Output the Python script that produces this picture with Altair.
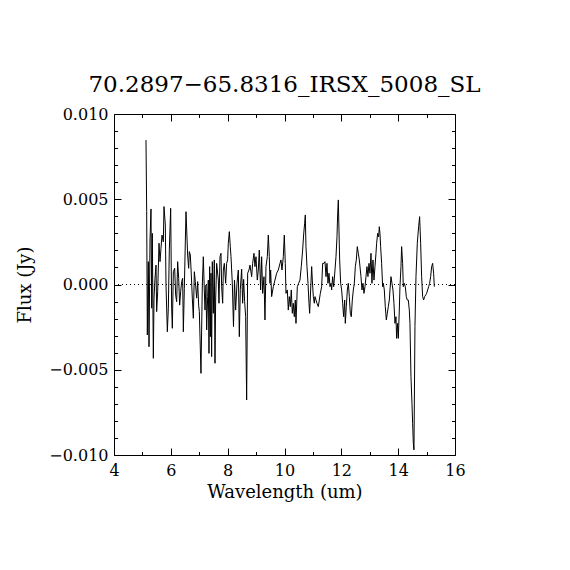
import altair as alt
import pandas as pd

title_text = "70.2897\u221265.8316_IRSX_5008_SL"
x_title = "Wavelength (um)"
y_title = "Flux (Jy)"

wavelength = [
    5.126, 5.150, 5.173, 5.208, 5.232, 5.267, 5.302, 5.326, 5.349, 5.384,
    5.408, 5.443, 5.478, 5.501, 5.537, 5.584, 5.619, 5.654, 5.689, 5.736,
    5.759, 5.806, 5.830, 5.877, 5.912, 5.947, 5.994, 6.029, 6.053, 6.088,
    6.135, 6.170, 6.205, 6.240, 6.276, 6.311, 6.346, 6.381, 6.416, 6.440,
    6.475, 6.510, 6.534, 6.592, 6.627, 6.651, 6.686, 6.721, 6.756, 6.792,
    6.827, 6.862, 6.909, 6.944, 6.979, 7.003,
    7.061, 7.108, 7.143, 7.178, 7.202, 7.237, 7.261, 7.296, 7.319, 7.343,
    7.366, 7.390, 7.413, 7.436, 7.460, 7.495, 7.530, 7.554, 7.577, 7.612,
    7.671, 7.694, 7.730, 7.765, 7.788, 7.824, 7.847, 7.882, 7.929, 7.964,
    7.999, 8.023, 8.058, 8.093, 8.117, 8.164, 8.205, 8.240, 8.281, 8.328,
    8.375, 8.410, 8.445, 8.492, 8.527, 8.562, 8.597, 8.633, 8.668, 8.703,
    8.750,
    8.785, 8.844, 8.879, 8.926, 8.961, 8.996, 9.043, 9.078, 9.113, 9.160,
    9.196, 9.231, 9.278, 9.313, 9.348, 9.395, 9.430, 9.465, 9.489, 9.512,
    9.547, 9.606, 9.665, 9.723, 9.782, 9.841, 9.876, 9.911, 9.958, 9.993,
    10.028, 10.052, 10.099, 10.134, 10.169, 10.204, 10.239, 10.275, 10.310, 10.345,
    10.380, 10.404, 10.451, 10.497, 10.544, 10.591, 10.638, 10.673, 10.709, 10.732,
    10.756, 10.791, 10.827, 10.862, 10.885, 10.920, 10.956, 10.979, 11.014, 11.049,
    11.073, 11.108, 11.143, 11.190, 11.225, 11.261, 11.307, 11.343, 11.390, 11.425,
    11.460, 11.495, 11.530, 11.565, 11.601, 11.636, 11.659, 11.694, 11.730, 11.777,
    11.812, 11.847, 11.870, 11.894, 11.917, 11.941, 11.976, 12.011, 12.046, 12.082,
    12.117, 12.140, 12.175, 12.211, 12.246, 12.281, 12.316, 12.351, 12.386, 12.422,
    12.457, 12.492, 12.527, 12.562, 12.598, 12.633,
    12.691, 12.726, 12.762, 12.797, 12.832, 12.867, 12.902, 12.937, 12.973, 13.008,
    13.043, 13.078, 13.113, 13.149, 13.184, 13.219, 13.242, 13.278, 13.313, 13.336,
    13.360, 13.383, 13.418, 13.454, 13.477, 13.512, 13.547, 13.583, 13.618, 13.653,
    13.688, 13.712, 13.747, 13.782, 13.817, 13.852, 13.888, 13.923, 13.946, 13.981,
    14.005, 14.040, 14.063, 14.099, 14.122, 14.157, 14.181, 14.216, 14.251, 14.286,
    14.321, 14.357, 14.392, 14.415, 14.450, 14.486, 14.509, 14.533, 14.556, 14.591,
    14.627, 14.673, 14.720, 14.755, 14.791, 14.826, 14.861, 14.896, 14.931, 14.967,
    15.002, 15.037, 15.072, 15.107, 15.143, 15.178, 15.213, 15.248, 15.272,
]

flux = [
    8.47e-3, 4.27e-3, -2.96e-3, 1.34e-3, -3.65e-3, 2.61e-3, 4.43e-3, -1.39e-3, 3.00e-3, -4.33e-3,
    -0.80e-3, 0.36e-3, 1.14e-3, -1.59e-3, -0.42e-3, 2.42e-3, 1.34e-3, 2.13e-3, 2.90e-3, 2.50e-3,
    4.57e-3, 3.49e-3, -0.03e-3, -2.77e-3, -1.39e-3, 2.03e-3, 4.47e-3, -1.39e-3, -2.57e-3, 0.75e-3,
    0.95e-3, -0.62e-3, -1.01e-3, 1.34e-3, 0.36e-3, -1.21e-3, -0.42e-3, 0.17e-3, 0.36e-3, -2.77e-3,
    -0.23e-3, 2.50e-3, 4.27e-3, 1.73e-3, 0.95e-3, 1.93e-3, 1.73e-3, 0.56e-3, -0.80e-3, -1.98e-3,
    0.75e-3, 0.17e-3, -0.80e-3, 0.17e-3, -1.21e-3, -1.59e-3,
    -5.21e-3, -0.03e-3, 1.63e-3, -0.32e-3, -1.50e-3, -0.03e-3, -2.67e-3, -0.71e-3, 0.26e-3, -4.04e-3,
    1.05e-3, -3.06e-3, 0.66e-3, -4.23e-3, 1.34e-3, -1.69e-3, 1.44e-3, -4.62e-3, -0.91e-3, 1.24e-3,
    0.26e-3, -1.10e-3, 1.63e-3, 1.83e-3, -0.13e-3, -1.10e-3, 0.85e-3, 1.24e-3, 0.07e-3, 1.24e-3,
    1.44e-3, 2.42e-3, 3.10e-3, 2.22e-3, 1.63e-3, 0.07e-3, -2.47e-3, 0.26e-3, -1.50e-3, 0.07e-3,
    0.85e-3, -3.06e-3, -0.30e-3, 0.90e-3, -1.10e-3, 0.30e-3, -1.00e-3, -1.89e-3, -6.77e-3, 0.66e-3,
    0.85e-3,
    1.14e-3, 0.46e-3, 1.24e-3, 1.83e-3, 1.05e-3, 1.63e-3, 0.26e-3, 0.85e-3, 2.02e-3, -0.32e-3,
    1.63e-3, -0.52e-3, 0.46e-3, -2.08e-3, 1.05e-3, 1.63e-3, 2.90e-3, 1.63e-3, 0.07e-3, 0.85e-3,
    -0.71e-3, -0.13e-3, 0.26e-3, 0.66e-3, 0.85e-3, 1.24e-3, 1.44e-3, 0.85e-3, 1.63e-3, 2.90e-3,
    1.24e-3, -0.52e-3, -0.32e-3, -1.50e-3, -0.71e-3, -1.30e-3, -0.32e-3, -1.69e-3, -1.10e-3, -1.89e-3,
    -0.91e-3, -2.28e-3, -0.13e-3, 0.07e-3, 0.26e-3, 1.05e-3, 2.02e-3, 2.90e-3, 3.59e-3, 4.08e-3,
    2.22e-3, 1.05e-3, 0.07e-3, -1.10e-3, -1.69e-3, -0.32e-3, 1.05e-3, 0.26e-3, -0.71e-3, -1.10e-3,
    -0.71e-3, -0.91e-3, -1.10e-3, -1.30e-3, -0.91e-3, -0.52e-3, -0.13e-3, 1.24e-3, 1.24e-3, 1.34e-3,
    0.46e-3, 1.24e-3, 0.07e-3, 0.66e-3, -0.13e-3, 0.07e-3, -0.32e-3, 0.46e-3, -0.13e-3, 0.85e-3,
    1.63e-3, 2.80e-3, 4.08e-3, 4.96e-3, 3.20e-3, 1.44e-3, 0.07e-3, -0.32e-3, -1.10e-3, -1.89e-3,
    -0.91e-3, -2.28e-3, -1.30e-3, -0.32e-3, 0.07e-3, -0.71e-3, -1.69e-3, -1.89e-3, -0.91e-3, -0.32e-3,
    0.07e-3, 1.05e-3, 1.44e-3, 2.22e-3, 1.83e-3, 1.44e-3,
    0.46e-3, -0.32e-3, 0.07e-3, -0.52e-3, -0.13e-3, 0.46e-3, 1.05e-3, 0.46e-3, 1.24e-3, 0.66e-3,
    1.83e-3, 0.07e-3, 1.44e-3, 0.26e-3, 1.05e-3, 1.83e-3, 2.42e-3, 3.00e-3, 2.80e-3, 3.39e-3,
    3.00e-3, 2.22e-3, 1.24e-3, -0.13e-3, 0.07e-3, -0.32e-3, -1.30e-3, -2.08e-3, -1.69e-3, -1.30e-3,
    -0.91e-3, -0.32e-3, 0.46e-3, 0.07e-3, -0.32e-3, -1.10e-3, -2.28e-3, -1.89e-3, -3.16e-3, -2.28e-3,
    -3.16e-3, -1.50e-3, -0.13e-3, 1.05e-3, 2.22e-3, 1.24e-3, -0.13e-3, 0.07e-3, -0.13e-3, -0.71e-3,
    -0.91e-3, -0.91e-3, -1.50e-3, -2.28e-3, -5.41e-3, -6.97e-3, -8.14e-3, -9.31e-3, -9.70e-3, -2.47e-3,
    0.46e-3, 2.42e-3, 3.39e-3, 3.98e-3, 2.42e-3, 0.46e-3, -0.71e-3, -0.91e-3, -0.71e-3, -0.62e-3,
    -0.52e-3, -0.32e-3, -0.13e-3, 0.07e-3, 0.46e-3, 1.05e-3, 1.24e-3, 0.66e-3, -0.13e-3,
]

x_domain = [4, 16]
y_domain = [-0.010, 0.010]
x_major = [4, 6, 8, 10, 12, 14, 16]
x_minor = [5, 7, 9, 11, 13, 15]
y_major = [-0.010, -0.005, 0.0, 0.005, 0.010]
y_minor = [-0.009, -0.008, -0.007, -0.006, -0.004, -0.003, -0.002, -0.001,
           0.001, 0.002, 0.003, 0.004, 0.006, 0.007, 0.008, 0.009]

df = pd.DataFrame({"wavelength": wavelength, "flux": flux})

FONT = "DejaVu Serif"
xscale = alt.Scale(domain=x_domain, nice=False, zero=False)
yscale = alt.Scale(domain=y_domain, nice=False, zero=False)

MAJOR = {"expr": "-7"}
MINOR = {"expr": "-3.5"}


def x_axis(orient, values, size, labels, domain, title=""):
    kw = dict(orient=orient, values=values, tickSize=size, labels=labels,
              domain=domain, grid=False, tickColor="black", tickWidth=1,
              domainColor="black", domainWidth=1, title=title)
    if labels:
        kw.update(format="d", labelFont=FONT, labelFontSize=16, labelColor="black",
                  labelPadding=14, labelFlush=False)
    if title:
        kw.update(titleFont=FONT, titleFontSize=18, titleFontWeight="normal",
                  titleColor="black", titlePadding=5)
    return alt.Axis(**kw)


def y_axis(orient, values, size, labels, domain, title=""):
    kw = dict(orient=orient, values=values, tickSize=size, labels=labels,
              domain=domain, grid=False, tickColor="black", tickWidth=1,
              domainColor="black", domainWidth=1, title=title)
    if labels:
        kw.update(format=".3f", labelFont=FONT, labelFontSize=16, labelColor="black",
                  labelPadding=13, labelFlush=False)
    if title:
        kw.update(titleFont=FONT, titleFontSize=18, titleFontWeight="normal",
                  titleColor="black", titlePadding=14)
    return alt.Axis(**kw)


base = alt.Chart(df)

main = base.mark_line(color="black", strokeWidth=1, clip=True).encode(
    x=alt.X("wavelength:Q", scale=xscale,
            axis=x_axis("bottom", x_major, MAJOR, True, True, x_title)),
    y=alt.Y("flux:Q", scale=yscale,
            axis=y_axis("left", y_major, MAJOR, True, True, y_title)),
)

top_right = base.mark_line(strokeOpacity=0).encode(
    x=alt.X("wavelength:Q", scale=xscale,
            axis=x_axis("top", x_major, MAJOR, False, True)),
    y=alt.Y("flux:Q", scale=yscale,
            axis=y_axis("right", y_major, MAJOR, False, True)),
)

minor_bl = base.mark_line(strokeOpacity=0).encode(
    x=alt.X("wavelength:Q", scale=xscale,
            axis=x_axis("bottom", x_minor, MINOR, False, False)),
    y=alt.Y("flux:Q", scale=yscale,
            axis=y_axis("left", y_minor, MINOR, False, False)),
)

minor_tr = base.mark_line(strokeOpacity=0).encode(
    x=alt.X("wavelength:Q", scale=xscale,
            axis=x_axis("top", x_minor, MINOR, False, False)),
    y=alt.Y("flux:Q", scale=yscale,
            axis=y_axis("right", y_minor, MINOR, False, False)),
)

zero = base.mark_rule(color="black", strokeWidth=1, strokeDash=[1, 3]).encode(
    y=alt.YDatum(0, scale=yscale, axis=None),
)

chart = (
    alt.layer(main, top_right, minor_bl, minor_tr, zero)
    .resolve_axis(x="independent", y="independent")
    .properties(
        width=341,
        height=341,
        title=alt.TitleParams(title_text, font=FONT, fontSize=23, fontWeight="normal",
                              color="black", anchor="middle", offset=9),
        autosize=alt.AutoSizeParams(type="none"),
        padding={"left": 106, "top": 106, "right": 100, "bottom": 100},
        background="white",
    )
    .configure_view(strokeWidth=0)
)

chart.save("out.html", embed_options={"renderer": "svg", "actions": False})
